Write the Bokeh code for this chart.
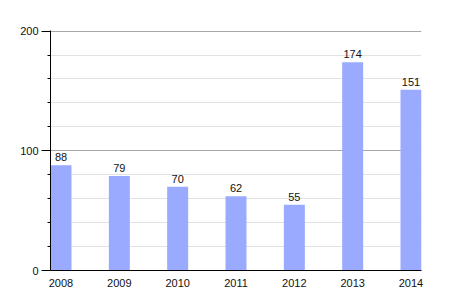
from bokeh.plotting import figure
from bokeh.models import ColumnDataSource, FixedTicker, Range1d, LabelSet
from bokeh.core.properties import value
from bokeh.embed import file_html
from bokeh.resources import INLINE

years = ["2008", "2009", "2010", "2011", "2012", "2013", "2014"]
values = [88, 79, 70, 62, 55, 174, 151]
y_major = [0, 100, 200]
y_minor = [20, 40, 60, 80, 120, 140, 160, 180]

xs = list(range(len(years)))
src = ColumnDataSource(dict(x=xs, top=values, label=[str(v) for v in values]))

p = figure(width=450, height=300, output_backend="svg", toolbar_location=None,
           x_range=Range1d(-0.18, 6.18), y_range=Range1d(0, 200.5),
           min_border_left=50, min_border_right=29, min_border_top=30, min_border_bottom=30)
p.outline_line_color = None
p.background_fill_color = "white"
p.border_fill_color = "white"

p.vbar(x="x", top="top", width=0.36, source=src, color="#99aaff", line_color=None)

labels = LabelSet(x="x", y="top", text="label", source=src, text_align="center",
                  text_baseline="bottom", y_offset=4, text_font=value("Liberation Sans"),
                  text_font_size="11px", text_color="#111111")
p.add_layout(labels)

p.xaxis.ticker = FixedTicker(ticks=xs)
p.xaxis.major_label_overrides = {i: y for i, y in enumerate(years)}
p.xaxis.major_tick_line_color = None
p.xaxis.minor_tick_line_color = None
p.xaxis.axis_line_color = "black"
p.xaxis.major_label_text_font = "Liberation Sans"
p.xaxis.major_label_text_font_size = "11px"
p.xaxis.major_label_text_color = "#111111"
p.xaxis.major_label_standoff = 2

p.yaxis.ticker = FixedTicker(ticks=y_major, minor_ticks=y_minor)
p.yaxis.axis_line_color = "black"
p.yaxis.major_tick_line_color = "black"
p.yaxis.major_tick_out = 9
p.yaxis.major_tick_in = 0
p.yaxis.minor_tick_line_color = "black"
p.yaxis.minor_tick_out = 3
p.yaxis.minor_tick_in = 0
p.yaxis.major_label_text_font = "Liberation Sans"
p.yaxis.major_label_text_font_size = "11px"
p.yaxis.major_label_text_color = "#111111"
p.yaxis.major_label_standoff = 3

p.xgrid.grid_line_color = None
p.ygrid.grid_line_color = "#a8a8a8"
p.ygrid.minor_grid_line_color = "#e2e2e2"

open("out.html", "w").write(file_html(p, INLINE))
